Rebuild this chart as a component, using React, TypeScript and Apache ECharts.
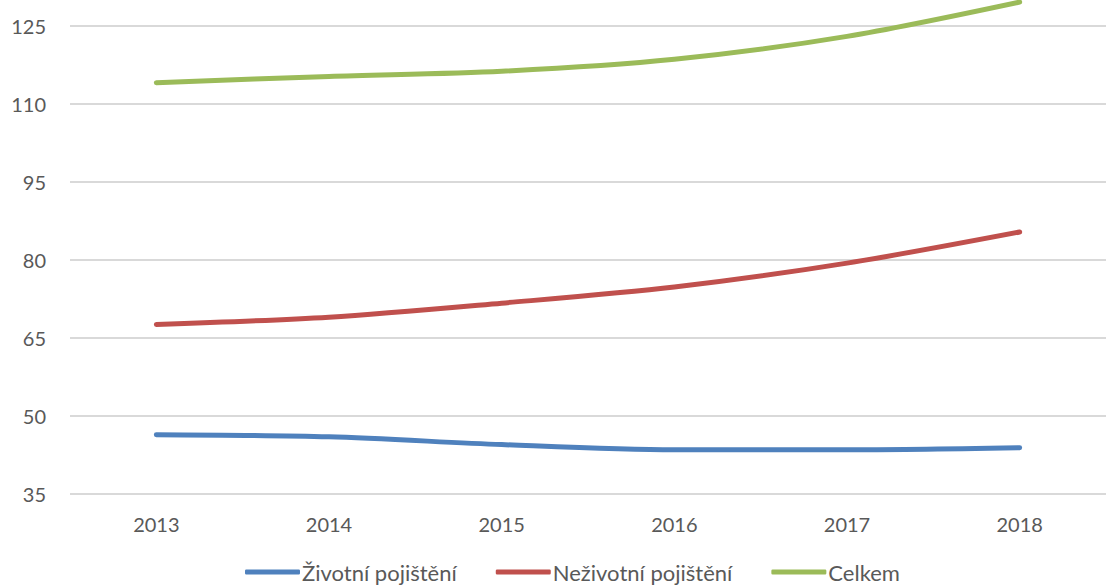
import React, { useEffect, useRef } from "react";
import * as echarts from "echarts";

// Years on the category axis
const years = ["2013", "2014", "2015", "2016", "2017", "2018"];

// Series values
const zivotni = [46.4, 46.0, 44.5, 43.5, 43.5, 43.9];
const nezivotni = [67.6, 69.0, 71.7, 74.8, 79.4, 85.4];
const celkem = [114.1, 115.3, 116.3, 118.6, 123.0, 129.6];

// Value axis ticks
const yTicks = [35, 50, 65, 80, 95, 110, 125];

const FONT = "Lato, 'Open Sans', sans-serif";
const TEXT = "#595959";

export default function App() {
  const ref = useRef<HTMLDivElement | null>(null);

  useEffect(() => {
    if (!ref.current) return;
    const chart = echarts.init(ref.current, undefined, { renderer: "svg" });

    const line = (name: string, data: number[], color: string) => ({
      name,
      type: "line",
      data,
      smooth: 0.3,
      symbol: "none",
      showSymbol: false,
      lineStyle: { color, width: 5, cap: "round", join: "round" },
      itemStyle: { color },
    });

    chart.setOption({
      animation: false,
      backgroundColor: "#ffffff",
      textStyle: { fontFamily: FONT },
      grid: { left: 70, right: -11, top: 0, bottom: 93, containLabel: false },
      xAxis: {
        type: "category",
        data: years,
        boundaryGap: true,
        axisLine: { show: false },
        axisTick: { show: false },
        axisLabel: { color: TEXT, fontSize: 20, fontFamily: FONT, margin: 20 },
        splitLine: { show: false },
      },
      yAxis: {
        type: "value",
        min: 35,
        max: 130,
        axisLine: { show: false },
        axisTick: { show: false, customValues: yTicks },
        axisLabel: {
          color: TEXT,
          fontSize: 20,
          fontFamily: FONT,
          margin: 24,
          customValues: yTicks,
        },
        splitLine: { show: true, lineStyle: { color: "#d9d9d9", width: 2 } },
      },
      legend: {
        left: 245,
        top: 561,
        padding: 0,
        itemWidth: 55,
        itemHeight: 5,
        itemGap: 39,
        icon: "roundRect",
        textStyle: {
          color: TEXT,
          fontSize: 22,
          fontFamily: FONT,
          padding: [0, 0, 0, -3],
        },
        data: ["Životní pojištění", "Neživotní pojištění", "Celkem"],
      },
      series: [
        line("Životní pojištění", zivotni, "#4f81bd"),
        line("Neživotní pojištění", nezivotni, "#c0504d"),
        line("Celkem", celkem, "#9bbb59"),
      ],
    });

    return () => chart.dispose();
  }, []);

  return (
    <div
      ref={ref}
      style={{ position: "fixed", left: 0, top: 0, width: 1106, height: 587 }}
    />
  );
}
